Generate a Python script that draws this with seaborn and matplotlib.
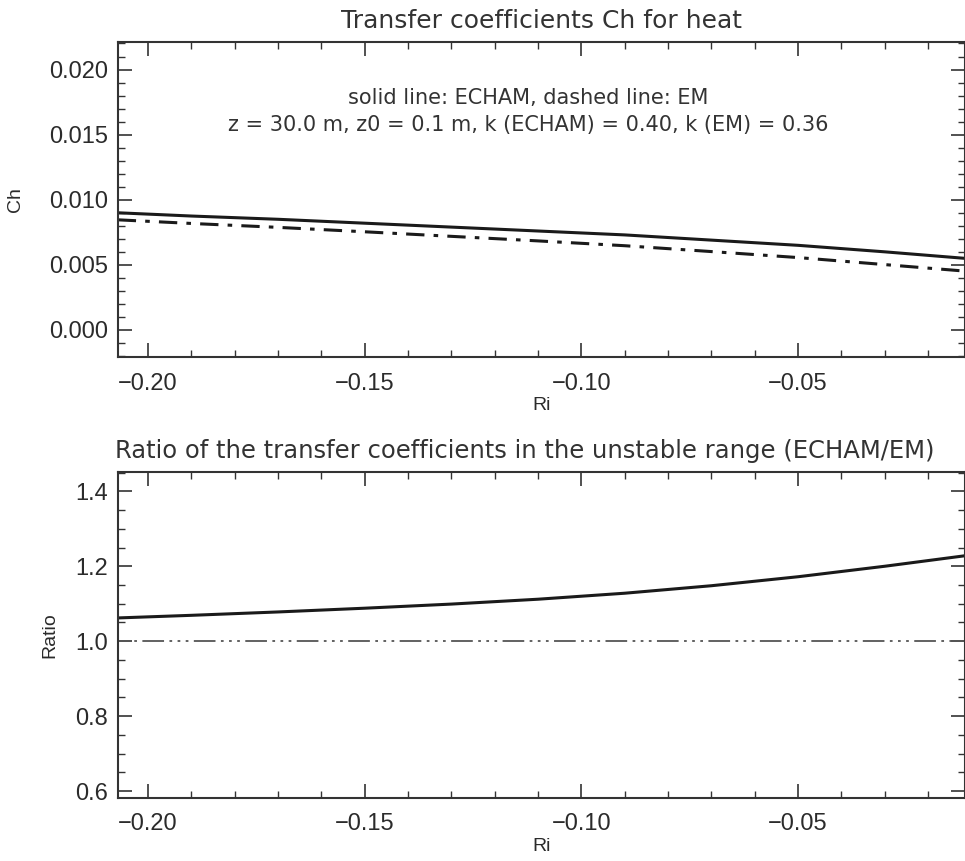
import numpy as np
import pandas as pd
import matplotlib
matplotlib.use("Agg")
import matplotlib.pyplot as plt
import seaborn as sns
from matplotlib.ticker import MultipleLocator

# values
ri = [-0.207, -0.19, -0.17, -0.15, -0.13, -0.11, -0.09, -0.07, -0.05, -0.03, -0.0115]
ch_echam = [0.0090, 0.00875, 0.0085, 0.0082, 0.0079, 0.0076, 0.0073, 0.0069, 0.0065, 0.0060, 0.0055]
ch_em = [0.00846, 0.00818, 0.00788, 0.00754, 0.00719, 0.00684, 0.00647, 0.00602, 0.00556, 0.00502, 0.00452]
ratio = [1.062, 1.069, 1.078, 1.088, 1.099, 1.112, 1.128, 1.148, 1.172, 1.200, 1.228]
ref_ri = [-0.207, -0.0115]
ref_ratio = [1.0, 1.0]

df = pd.DataFrame({"Ri": ri, "ECHAM": ch_echam, "EM": ch_em, "Ratio": ratio})
ref = pd.DataFrame({"Ri": ref_ri, "Ratio": ref_ratio})

sns.set_style("ticks")
plt.rcParams['font.family'] = ['Liberation Sans', 'DejaVu Sans']
ink = "#1a1a1a"
txt = "#2b2b2b"
title_font = dict(family="DejaVu Sans", color="#333333")

fig = plt.figure(figsize=(9.65, 8.61), dpi=100)
ax1 = fig.add_axes([0.122, 0.585, 0.878, 0.366])
ax2 = fig.add_axes([0.122, 0.073, 0.878, 0.379])

# top panel: Ch
sns.lineplot(data=df, x="Ri", y="ECHAM", ax=ax1, color=ink, lw=2.2)
sns.lineplot(data=df, x="Ri", y="EM", ax=ax1, color=ink, lw=2.2,
             linestyle=(0, (6, 3, 1.5, 3)))
ax1.set_xlim(-0.207, -0.0115)
ax1.set_ylim(-0.0021, 0.0221)
ax1.yaxis.set_major_locator(MultipleLocator(0.005))
ax1.yaxis.set_minor_locator(MultipleLocator(0.001))
ax1.set_yticklabels([f"{v:.3f}" for v in ax1.get_yticks()])
ax1.set_title("Transfer coefficients Ch for heat", fontsize=18, pad=10, **title_font)
ax1.set_xlabel("Ri", fontsize=14, labelpad=2, color=txt)
ax1.set_ylabel("Ch", fontsize=14, labelpad=18, color=txt)
ax1.text(0.484, 0.822, "solid line: ECHAM, dashed line: EM", transform=ax1.transAxes,
         ha="center", va="center", fontsize=15, **title_font)
ax1.text(0.484, 0.737, "z = 30.0 m, z0 = 0.1 m, k (ECHAM) = 0.40, k (EM) = 0.36",
         transform=ax1.transAxes, ha="center", va="center", fontsize=15, **title_font)

# bottom panel: ratio
sns.lineplot(data=df, x="Ri", y="Ratio", ax=ax2, color=ink, lw=2.2)
sns.lineplot(data=ref, x="Ri", y="Ratio", ax=ax2, color="#555555", lw=1.3,
             linestyle=(0, (1.5, 3, 1.5, 3, 1.5, 3, 12, 3)))
ax2.set_xlim(-0.207, -0.0115)
ax2.set_ylim(0.581, 1.452)
ax2.yaxis.set_major_locator(MultipleLocator(0.2))
ax2.yaxis.set_minor_locator(MultipleLocator(0.05))
ax2.set_title("Ratio of the transfer coefficients in the unstable range (ECHAM/EM)",
              fontsize=17.5, pad=10, x=0.48, **title_font)
ax2.set_xlabel("Ri", fontsize=14, labelpad=2, color=txt)
ax2.set_ylabel("Ratio", fontsize=14, labelpad=12, color=txt)

for ax in (ax1, ax2):
    ax.xaxis.set_major_locator(MultipleLocator(0.05))
    ax.xaxis.set_minor_locator(MultipleLocator(0.01))
    ax.set_xticklabels([f"{v:.2f}".replace("-", "\u2212") for v in ax.get_xticks()])
    ax.tick_params(which="both", direction="in", top=True, right=True,
                   labelsize=17, color="#333333", labelcolor=txt)
    ax.tick_params(axis="x", which="major", pad=11)
    ax.tick_params(axis="y", which="major", pad=7)
    ax.tick_params(which="major", length=10, width=1.2)
    ax.tick_params(which="minor", length=5, width=1.0)
    for s in ax.spines.values():
        s.set_linewidth(1.5)
        s.set_color("#333333")
    ax.grid(False)

fig.savefig("out.png", dpi=100)
